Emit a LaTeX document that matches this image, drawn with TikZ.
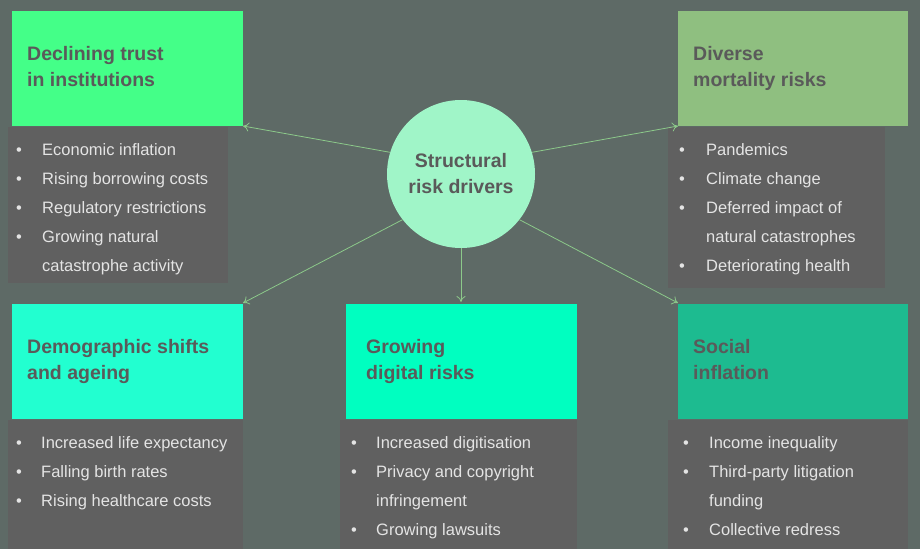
\documentclass[tikz,border=0pt]{standalone}
\usepackage{fontspec}
\setmainfont{Liberation Sans}
\usetikzlibrary{arrows.meta}
\definecolor{bg}{HTML}{5E6A66}
\definecolor{panel}{HTML}{606060}
\definecolor{headtxt}{HTML}{5A5A5A}
\definecolor{bullettxt}{HTML}{E4E4E4}
\definecolor{linkc}{HTML}{8CC98A}
\definecolor{trustc}{HTML}{44FF88}
\definecolor{mortc}{HTML}{8FBF80}
\definecolor{democ}{HTML}{22FFD0}
\definecolor{digic}{HTML}{00FFC0}
\definecolor{socc}{HTML}{1DBB90}
\definecolor{hubc}{HTML}{A0F5C8}
\newcommand{\bul}{\textbullet}
\begin{document}
\begin{tikzpicture}[x=1pt,y=-1pt]
    \tikzstyle{head} = [anchor=base west, align=left, text=headtxt, font=\fontsize{19.5}{26}\selectfont\bfseries, inner sep=0];
    \tikzstyle{items} = [anchor=north west, text=bullettxt, font=\fontsize{16.5}{29}\selectfont, inner sep=0];
    \tikzstyle{link} = [draw=linkc, thick, -{To[length=6pt,width=9pt]}];

    \fill[bg] (0,0) rectangle (920,549);

    % boxes and panels
    \fill[panel] (8,127) rectangle (228,283);
    \fill[panel] (668,127) rectangle (885,288);
    \fill[panel] (8,420) rectangle (243,549);
    \fill[panel] (340,420) rectangle (577,549);
    \fill[panel] (668,420) rectangle (908,549);

    \fill[trustc] (12,11) rectangle (243,126);
    \fill[mortc] (678,11) rectangle (908,126);
    \fill[democ] (12,304) rectangle (243,419);
    \fill[digic] (346,304) rectangle (577,419);
    \fill[socc] (678,304) rectangle (908,419);

    \coordinate (trust) at (243,126);
    \coordinate (mort) at (678,126);
    \coordinate (demo) at (243,303);
    \coordinate (digi) at (461,302);
    \coordinate (soc) at (678,303);

    \node[circle, fill=hubc, minimum size=148pt, inner sep=0] (hub) at (461,174) {};
    \node[align=center, text=headtxt, font=\fontsize{19.5}{26}\selectfont\bfseries] at (461,174) {Structural\\risk drivers};

    \node[head] (h1) at (27,86) {Declining trust\\in institutions};
    \node[head] (h2) at (693,86) {Diverse\\mortality risks};
    \node[head] (h3) at (27,379) {Demographic shifts\\and ageing};
    \node[head] (h4) at (366,379) {Growing\\digital risks};
    \node[head] (h5) at (693,379) {Social\\inflation};

    \node[items] (l1) at (16,135) {\begin{tabular}{@{}p{14pt}l@{}}
        \bul & Economic inflation\\ \bul & Rising borrowing costs\\
        \bul & Regulatory restrictions\\ \bul & Growing natural\\ & catastrophe activity\end{tabular}};
    \node[items] (l2) at (679,135) {\begin{tabular}{@{}p{15pt}l@{}}
        \bul & Pandemics\\ \bul & Climate change\\ \bul & Deferred impact of\\
        & natural catastrophes\\ \bul & Deteriorating health\end{tabular}};
    \node[items] (l3) at (16,428) {\begin{tabular}{@{}p{13pt}l@{}}
        \bul & Increased life expectancy\\ \bul & Falling birth rates\\
        \bul & Rising healthcare costs\end{tabular}};
    \node[items] (l4) at (351,428) {\begin{tabular}{@{}p{13pt}l@{}}
        \bul & Increased digitisation\\ \bul & Privacy and copyright\\
        & infringement\\ \bul & Growing lawsuits\end{tabular}};
    \node[items] (l5) at (683,428) {\begin{tabular}{@{}p{14pt}l@{}}
        \bul & Income inequality\\ \bul & Third-party litigation\\
        & funding\\ \bul & Collective redress\end{tabular}};

    \draw[link] (hub.163) -- (trust);
    \draw[link] (hub.17) -- (mort);
    \draw[link] (hub.218) -- (demo);
    \draw[link] (hub.south) -- (digi);
    \draw[link] (hub.-38) -- (soc);
\end{tikzpicture}
\end{document}
